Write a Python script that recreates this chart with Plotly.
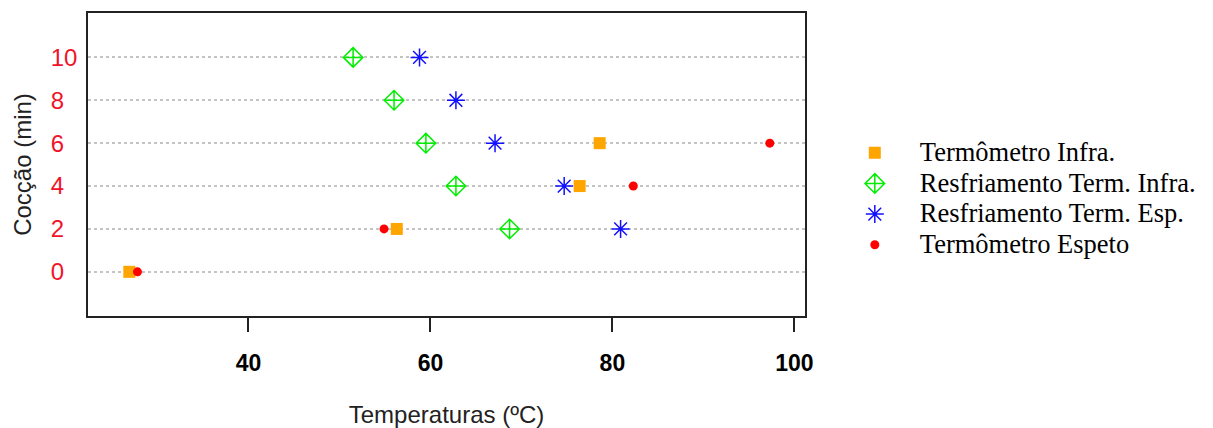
import plotly.graph_objects as go

# Cooking time (min) on the y axis, temperatures (ºC) on the x axis
infra_y = [0, 2, 4, 6]
infra_x = [26.9, 56.3, 76.4, 78.6]

resf_infra_y = [2, 4, 6, 8, 10]
resf_infra_x = [68.7, 62.8, 59.5, 56.0, 51.5]

resf_esp_y = [2, 4, 6, 8, 10]
resf_esp_x = [80.9, 74.7, 67.1, 62.8, 58.8]

espeto_y = [0, 2, 4, 6]
espeto_x = [27.8, 54.9, 82.3, 97.3]

y_ticks = [0, 2, 4, 6, 8, 10]
x_ticks = [40, 60, 80, 100]

SERIF = "Liberation Serif, Times New Roman, serif"
SANS = "Liberation Sans, Arial, sans-serif"


def leg(name):
    return f'<span style="font-size:26.5px">{name}</span>'


fig = go.Figure()
fig.add_trace(go.Scatter(
    x=infra_x, y=infra_y, mode="markers", name=leg("Termômetro Infra."),
    marker=dict(symbol="square", size=12, color="#FFA500",
                line=dict(width=0))))
fig.add_trace(go.Scatter(
    x=resf_infra_x, y=resf_infra_y, mode="markers",
    name=leg("Resfriamento Term. Infra."),
    marker=dict(symbol="diamond-cross-open", size=15, color="#00EE00",
                line=dict(width=1.5, color="#00EE00"))))
fig.add_trace(go.Scatter(
    x=resf_esp_x, y=resf_esp_y, mode="markers",
    name=leg("Resfriamento Term. Esp."),
    marker=dict(symbol="asterisk-open", size=15, color="#1010FF",
                line=dict(width=1.5, color="#1010FF"))))
fig.add_trace(go.Scatter(
    x=espeto_x, y=espeto_y, mode="markers", name=leg("Termômetro Espeto"),
    marker=dict(symbol="circle", size=9, color="#FF0000",
                line=dict(width=0))))

# pad one-digit labels with a figure space so they line up on the left
y_text = [str(v) if v >= 10 else f"{v}\u2007" for v in y_ticks]

fig.update_layout(
    width=1213, height=428,
    margin=dict(l=88, r=402, t=13, b=112),
    paper_bgcolor="white", plot_bgcolor="white",
    showlegend=True,
    legend=dict(
        x=1.0346, y=0.606, xanchor="left", yanchor="top",
        font=dict(family=SERIF, size=21.3, color="black"),
        itemwidth=80, bgcolor="rgba(0,0,0,0)",
    ),
    xaxis=dict(
        range=[22.36, 101.17], automargin=False,
        tickmode="array", tickvals=x_ticks,
        ticks="outside", ticklen=14, tickwidth=1.5, tickcolor="#222",
        tickfont=dict(family=SANS, size=23, color="black", weight="bold"),
        ticklabelstandoff=12,
        showgrid=False, zeroline=False,
        showline=True, linewidth=1.5, linecolor="#222", mirror=True,
        title=dict(text="Temperaturas (ºC)", standoff=34,
                   font=dict(family=SANS, size=24, color="#222")),
    ),
    yaxis=dict(
        range=[-2.06, 12.07], automargin=False,
        tickmode="array", tickvals=y_ticks, ticktext=y_text,
        ticks="", ticklabelstandoff=4,
        tickfont=dict(family=SANS, size=24, color="#F0142A"),
        showgrid=True, gridcolor="#C4C4C4", gridwidth=1.5, griddash="dot",
        zeroline=False,
        showline=True, linewidth=1.5, linecolor="#222", mirror=True,
        title=dict(text="Cocção (min)", standoff=12,
                   font=dict(family=SANS, size=24, color="#222")),
    ),
)

fig.write_html("out.html")
